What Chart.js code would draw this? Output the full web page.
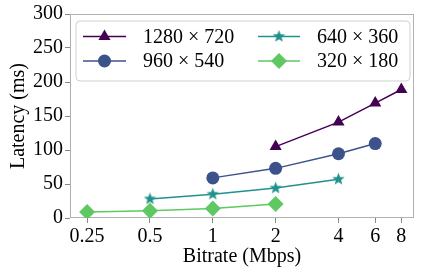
<!DOCTYPE html>
<html>
<head>
<meta charset="utf-8">
<script src="https://cdn.jsdelivr.net/npm/chart.js@4/dist/chart.umd.min.js"></script>
<style>
  html, body { margin: 0; padding: 0; background: #fff; }
</style>
</head>
<body>
<canvas id="myChart" width="422" height="269"></canvas>
<script>
// data
const seriesLabels = ['1280 × 720', '960 × 540', '640 × 360', '320 × 180'];
const bitrate720 = [2, 4, 6, 8];
const latency720 = [105, 141, 169, 189];
const bitrate540 = [1, 2, 4, 6];
const latency540 = [59, 73, 94.5, 109.5];
const bitrate360 = [0.5, 1, 2, 4];
const latency360 = [28, 35, 44, 57];
const bitrate180 = [0.25, 0.5, 1, 2];
const latency180 = [9, 10.5, 14, 20.5];
const xTicks = [0.25, 0.5, 1, 2, 4, 6, 8];
const yTicks = [0, 50, 100, 150, 200, 250, 300];

const colors = ['#440154', '#3b528b', '#21918c', '#5ec962'];
const FONT = "'Liberation Serif', 'Times New Roman', serif";

// filled 5-point star like matplotlib '*'
function makeStar(color, r) {
  const c = document.createElement('canvas');
  const s = Math.ceil(r * 2 + 2);
  c.width = s; c.height = s;
  const g = c.getContext('2d');
  g.fillStyle = color;
  g.beginPath();
  for (let i = 0; i < 10; i++) {
    const rad = i % 2 === 0 ? r : r * 0.42;
    const a = -Math.PI / 2 + i * Math.PI / 5;
    const px = s / 2 + rad * Math.cos(a), py = s / 2 + rad * Math.sin(a);
    if (i === 0) g.moveTo(px, py); else g.lineTo(px, py);
  }
  g.closePath();
  g.fill();
  return c;
}
const starImg = makeStar(colors[2], 6.5);

function pts(xs, ys) {
  return xs.map((x, i) => ({ x: x, y: ys[i] }));
}

const styles = [
  { pointStyle: 'triangle', pointRadius: 7 },
  { pointStyle: 'circle', pointRadius: 6.5 },
  { pointStyle: starImg, pointRadius: 7 },
  { pointStyle: 'rectRot', pointRadius: 8 }
];
const seriesData = [
  pts(bitrate720, latency720),
  pts(bitrate540, latency540),
  pts(bitrate360, latency360),
  pts(bitrate180, latency180)
];

const datasets = seriesData.map((d, i) => ({
  label: seriesLabels[i],
  data: d,
  borderColor: colors[i],
  backgroundColor: colors[i],
  borderWidth: 1.5,
  pointStyle: styles[i].pointStyle,
  pointRadius: styles[i].pointRadius,
  pointHoverRadius: styles[i].pointRadius,
  pointBorderWidth: 0,
  tension: 0
}));

// frame round the plot area
const framePlugin = {
  id: 'frame',
  beforeDatasetsDraw(chart) {
    const a = chart.chartArea, ctx = chart.ctx;
    ctx.save();
    ctx.strokeStyle = '#b0b0b0';
    ctx.lineWidth = 1;
    ctx.strokeRect(Math.round(a.left) + 0.5, Math.round(a.top) + 0.5,
      Math.round(a.right - a.left) - 1, Math.round(a.bottom - a.top) - 1);
    ctx.restore();
  }
};

// matplotlib-like legend box with line + marker
const legendPlugin = {
  id: 'mplLegend',
  afterDatasetsDraw(chart) {
    const ctx = chart.ctx;
    ctx.save();
    const bx = 76, by = 21, bw = 334, bh = 60, r = 4;
    ctx.beginPath();
    ctx.moveTo(bx + r, by);
    ctx.arcTo(bx + bw, by, bx + bw, by + bh, r);
    ctx.arcTo(bx + bw, by + bh, bx, by + bh, r);
    ctx.arcTo(bx, by + bh, bx, by, r);
    ctx.arcTo(bx, by, bx + bw, by, r);
    ctx.closePath();
    ctx.fillStyle = 'rgba(255,255,255,0.8)';
    ctx.fill();
    ctx.strokeStyle = '#d0d0d0';
    ctx.lineWidth = 1;
    ctx.stroke();

    const cols = [{ x0: 83, x1: 126, tx: 143 }, { x0: 258, x1: 300, tx: 317 }];
    const rows = [36.5, 61];
    ctx.font = '20px ' + FONT;
    ctx.textBaseline = 'middle';
    datasets.forEach((ds, i) => {
      const c = cols[Math.floor(i / 2)], y = rows[i % 2];
      ctx.strokeStyle = ds.borderColor;
      ctx.fillStyle = ds.backgroundColor;
      ctx.lineWidth = 1.5;
      ctx.beginPath();
      ctx.moveTo(c.x0, y);
      ctx.lineTo(c.x1, y);
      ctx.stroke();
      Chart.helpers.drawPoint(ctx, {
        pointStyle: ds.pointStyle, radius: ds.pointRadius, rotation: 0, borderWidth: 0
      }, (c.x0 + c.x1) / 2, y);
      ctx.fillStyle = '#000';
      ctx.fillText(ds.label, c.tx, y + 1);
    });
    ctx.restore();
  }
};

const ctx = document.getElementById('myChart').getContext('2d');
const myChart = new Chart(ctx, {
  type: 'line',
  data: { datasets: datasets },
  options: {
    responsive: false,
    animation: false,
    devicePixelRatio: 1,
    layout: { padding: { top: 11, right: 4, left: 0, bottom: 0 } },
    plugins: { legend: { display: false }, tooltip: { enabled: false } },
    scales: {
      x: {
        type: 'logarithmic',
        min: 0.207,
        max: 9.2,
        afterBuildTicks: s => { s.ticks = xTicks.map(v => ({ value: v })); },
        afterFit: s => { s.height = 51; },
        ticks: {
          color: '#000',
          font: { family: FONT, size: 20 },
          padding: 2,
          maxRotation: 0,
          autoSkip: false,
          callback: v => String(v)
        },
        grid: { drawOnChartArea: false, tickLength: 5, color: '#888', tickColor: '#888' },
        border: { display: false },
        title: {
          display: true,
          text: 'Bitrate (Mbps)',
          color: '#000',
          font: { family: FONT, size: 20 },
          padding: { top: 0, bottom: 0 }
        }
      },
      y: {
        min: 0,
        max: 300,
        afterBuildTicks: s => { s.ticks = yTicks.map(v => ({ value: v })); },
        afterFit: s => { s.width = 70; },
        ticks: {
          color: '#000',
          font: { family: FONT, size: 20 },
          padding: 2
        },
        grid: { drawOnChartArea: false, tickLength: 5, color: '#888', tickColor: '#888' },
        border: { display: false },
        title: {
          display: true,
          text: 'Latency (ms)',
          color: '#000',
          font: { family: FONT, size: 20 },
          padding: { top: 7, bottom: 0 }
        }
      }
    }
  },
  plugins: [framePlugin, legendPlugin]
});
</script>
</body>
</html>
